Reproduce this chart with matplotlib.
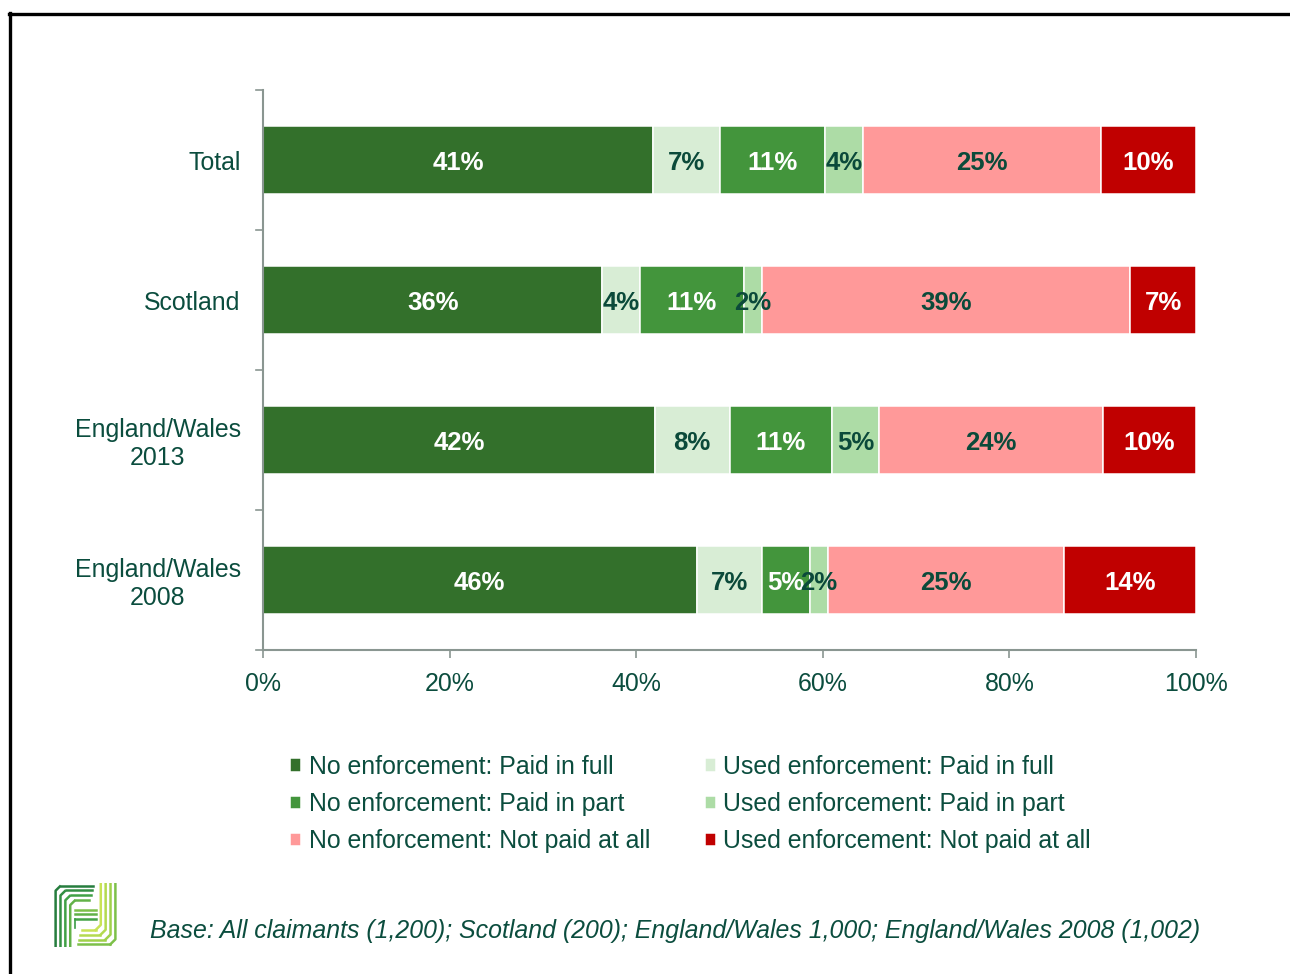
import numpy as np
import matplotlib
matplotlib.use("Agg")
import matplotlib.pyplot as plt
from matplotlib.lines import Line2D

plt.rcParams['font.family'] = ['Liberation Sans', 'DejaVu Sans']

# Data (percentages as reported, per row)
groups = ["Total", "Scotland", "England/Wales\n2013", "England/Wales\n2008"]
series = [
    "No enforcement: Paid in full",
    "Used enforcement: Paid in full",
    "No enforcement: Paid in part",
    "Used enforcement: Paid in part",
    "No enforcement: Not paid at all",
    "Used enforcement: Not paid at all",
]
no_enf_full = [41, 36, 42, 46]
used_enf_full = [7, 4, 8, 7]
no_enf_part = [11, 11, 11, 5]
used_enf_part = [4, 2, 5, 2]
no_enf_none = [25, 39, 24, 25]
used_enf_none = [10, 7, 10, 14]
xticks = [0, 20, 40, 60, 80, 100]
base_note = ("Base: All claimants (1,200); Scotland (200); "
             "England/Wales 1,000; England/Wales 2008 (1,002)")

colors = ["#33702B", "#D8EDD5", "#43953C", "#ADDCA6", "#FF9999", "#C00000"]
label_colors = ["white", "#0B4A3A", "white", "#0B4A3A", "#0B4A3A", "white"]
text_col = "#0B4D3E"
axis_col = "#8A9691"
FS = 17.9

values = np.array([no_enf_full, used_enf_full, no_enf_part,
                   used_enf_part, no_enf_none, used_enf_none], dtype=float)
totals = values.sum(axis=0)
shares = values / totals * 100  # 100% stacked

W, H = 1290, 974
fig = plt.figure(figsize=(W / 100, H / 100), dpi=100)
ax = fig.add_axes([263 / W, 1 - 650 / H, (1196 - 263) / W, (650 - 90) / H])

ypos = np.arange(len(groups))
left = np.zeros(len(groups))
containers = []
for i, name in enumerate(series):
    bc = ax.barh(ypos, shares[i], left=left, height=0.49, color=colors[i],
                 edgecolor="white", linewidth=1.1, label=name, zorder=2)
    containers.append(bc)
    for j in range(len(groups)):
        ax.text(left[j] + shares[i][j] / 2, ypos[j], f"{int(values[i][j])}%",
                ha="center", va="center_baseline", fontsize=18.5,
                fontweight="bold", color=label_colors[i], zorder=3)
    left += shares[i]

ax.set_xlim(0, 100)
ax.set_ylim(len(groups) - 0.5, -0.5)
ax.set_xticks(xticks)
ax.set_xticklabels([f"{t}%" for t in xticks], fontsize=FS, color=text_col)
ax.set_yticks(ypos)
ax.set_yticklabels(groups, fontsize=FS, color=text_col, ha="right",
                   multialignment="center")
ax.tick_params(axis="y", length=0, pad=16)
ax.tick_params(axis="x", length=6, width=1.2, color=axis_col, pad=9.5)
# category separator ticks on the value axis
for b in np.arange(-0.5, len(groups), 1.0):
    ax.plot([-0.75, 0], [b, b], color=axis_col, lw=1.2, clip_on=False, zorder=1)
for s in ["top", "right"]:
    ax.spines[s].set_visible(False)
for s in ["left", "bottom"]:
    ax.spines[s].set_color(axis_col)
    ax.spines[s].set_linewidth(1.5)

# Legend: two columns, "No enforcement" on the left, "Used enforcement" on the right
handles = [containers[k] for k in (0, 2, 4, 1, 3, 5)]
labels = [series[k] for k in (0, 2, 4, 1, 3, 5)]
leg = fig.legend(handles, labels, ncol=2, loc="upper left",
                 bbox_to_anchor=(290 / W, 1 - 755 / H), frameon=False,
                 fontsize=FS, handlelength=0.45, handleheight=0.45,
                 handletextpad=0.3, columnspacing=2.2, labelspacing=0.53,
                 borderpad=0, borderaxespad=0)
for t in leg.get_texts():
    t.set_color(text_col)

fig.text(150 / W, 1 - 931 / H, base_note, fontsize=FS, style="italic",
         color=text_col, ha="left", va="center")

# Frame lines along top and left
fig.add_artist(Line2D([9 / W, 1.0], [1 - 13.5 / H, 1 - 13.5 / H],
                      color="black", lw=2.4, transform=fig.transFigure))
fig.add_artist(Line2D([9.5 / W, 9.5 / W], [0, 1 - 12.5 / H],
                      color="black", lw=2.4, transform=fig.transFigure))

# Logo: nested green strokes
lax = fig.add_axes([53 / W, 1 - 947 / H, 65 / W, 64 / H])
lax.set_xlim(0, 1)
lax.set_ylim(0, 1)
lax.axis("off")
cmap = matplotlib.colors.LinearSegmentedColormap.from_list(
    "logo", ["#1B6E3A", "#3FA046", "#9FD14A", "#D8EA5A"])
for k in range(4):
    o = 0.04 + k * 0.075
    c1 = cmap(0.1 + k * 0.12)
    # left "F" part
    lax.plot([o, o, o + 0.08], [0.0, 1 - o - 0.08, 1 - o], color=c1, lw=1.8,
             solid_capstyle="butt")
    lax.plot([o + 0.08, 0.62 - k * 0.02], [1 - o, 1 - o], color=c1, lw=1.8)
    # right "J" part
    c2 = cmap(0.55 + k * 0.12)
    x = 1 - o
    lax.plot([x, x, x - 0.08], [1.0, o + 0.08, o], color=c2, lw=1.8)
    lax.plot([x - 0.08, 0.38 + k * 0.02], [o, o], color=c2, lw=1.8)
# middle bar
for k in range(3):
    y = 0.44 + k * 0.07
    lax.plot([0.34, 0.66], [y, y], color=cmap(0.35 + k * 0.1), lw=1.8)
    lax.plot([0.34, 0.34], [y, 0.3 if k == 0 else y], color=cmap(0.3), lw=1.2)

fig.savefig("out.png", dpi=100, facecolor="white")
